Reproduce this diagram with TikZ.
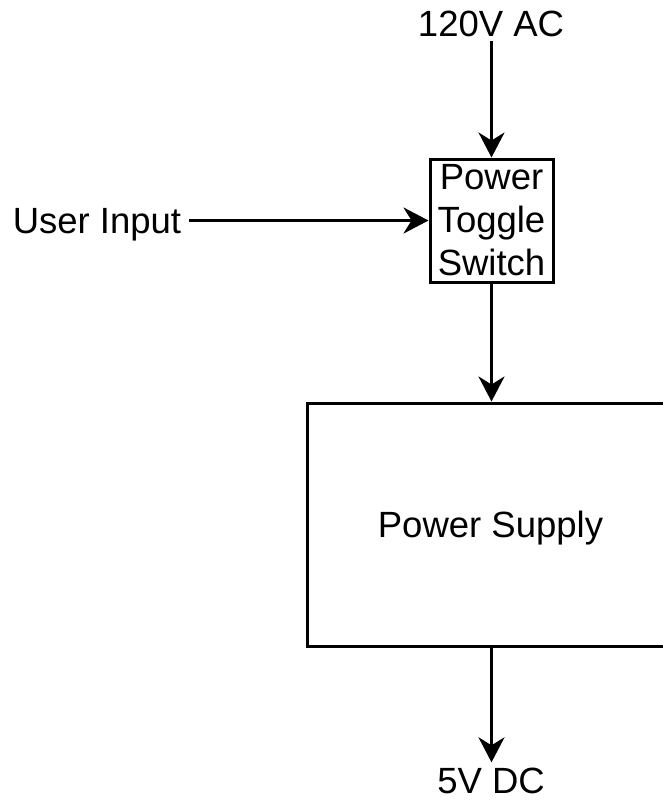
\documentclass[tikz,border=0pt]{standalone}
\usepackage{fontspec}
\setmainfont{Liberation Sans}
\usetikzlibrary{arrows.meta}

\tikzset{
  label text/.style={inner sep=0pt, font=\fontsize{36.5}{43}\selectfont},
  block/.style={draw, line width=3pt, rectangle, inner sep=0pt,
                font=\fontsize{36.5}{43}\selectfont},
  flow/.style={line width=3pt,
               -{Stealth[length=25pt, width=26pt, inset=8pt]}},
}

\begin{document}
\begin{tikzpicture}[x=1pt, y=-1pt]
  \useasboundingbox (0,0) rectangle (663,801);
  \clip (0,0) rectangle (663,801);
  \fill[white] (0,0) rectangle (663,801);

  % inputs and output labels
  \node[label text, anchor=base] (ac)   at (491,36)  {120V AC};
  \node[label text, anchor=base] (user) at (97,233)  {User Input};
  \node[label text, anchor=base] (dc)   at (491,793) {5V DC};

  % blocks
  \node[block, align=center, minimum width=123pt, minimum height=123pt]
       (toggle) at (491.5,220.5) {Power\\Toggle\\Switch};
  \node[block, minimum width=367pt, minimum height=243pt,
        text height=26pt, text depth=0pt]
       (psu) at (490.5,524.5) {Power Supply};

  % connectors
  \draw[flow, shorten <=4pt] (ac.south -| toggle.north) -- (toggle.north);
  \draw[flow, shorten <=8pt] (user.east |- toggle.west) -- (toggle.west);
  \draw[flow] (toggle.south) -- (toggle.south |- psu.north);
  \draw[flow, shorten >=5pt] (toggle.south |- psu.south) -- (toggle.south |- dc.north);
\end{tikzpicture}
\end{document}
